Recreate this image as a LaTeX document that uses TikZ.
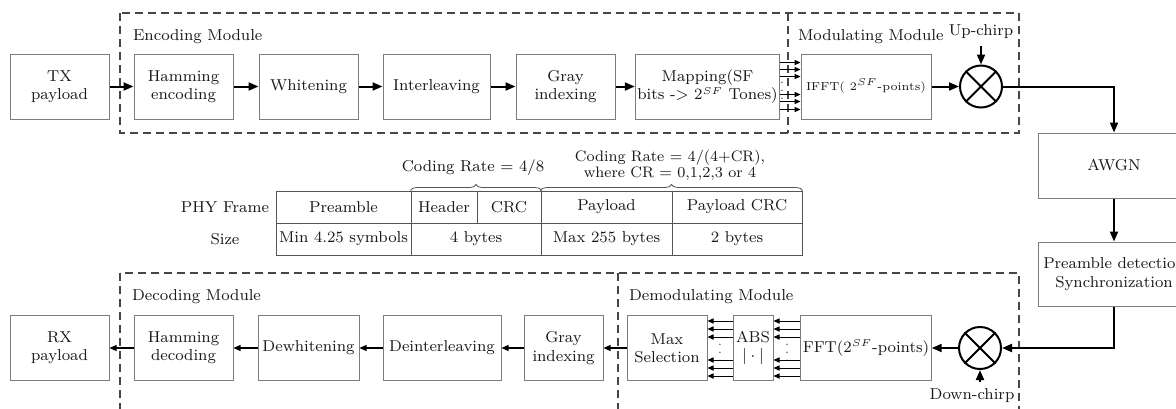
\documentclass[tikz,border=0pt]{standalone}
\usepackage{tikz}
\usetikzlibrary{calc,arrows.meta,decorations.pathreplacing}
\definecolor{boxgray}{RGB}{125,125,125}
\definecolor{dashgray}{RGB}{70,70,70}
\definecolor{tabgray}{RGB}{85,85,85}
\definecolor{inkblack}{RGB}{25,25,25}
\newcommand{\lblsize}{\fontsize{7.9}{9.2}\selectfont}
\newcommand{\smallsize}{\fontsize{5.8}{7}\selectfont}
\newcommand{\dotsize}{\fontsize{5.5}{5.5}\selectfont}
\newcommand{\sfexp}{$^{\scriptscriptstyle SF}$}

\begin{document}
\begin{tikzpicture}[x=0.5pt,y=-0.5pt,
  every node/.style={font=\lblsize,text=inkblack},
  blk/.style={draw=boxgray,line width=0.5pt,minimum height=32.5pt,inner sep=1pt,align=center},
  cell/.style={draw=tabgray,line width=0.5pt,minimum height=16pt,inner sep=0pt},
  mixer/.style={circle,draw=black,line width=1pt,minimum size=21pt,inner sep=0pt},
  module/.style={draw=dashgray,line width=0.6pt,dash pattern=on 4pt off 2.5pt},
  bigarrow/.style={draw=black,line width=1pt,-{Triangle[length=5pt,width=4pt]}},
  thinarrow/.style={draw=black,line width=0.6pt,-{Triangle[length=3.5pt,width=3pt]}},
  busarrow/.style={draw=black,line width=0.5pt,-{Triangle[length=3pt,width=2.6pt]}},
  busdots/.style={font=\dotsize,inner sep=0pt},
  cbrace/.style={draw=tabgray,line width=0.4pt,decorate,decoration={brace,amplitude=3pt}}
]
\useasboundingbox (0,0) rectangle (1176,408);
\clip (0,0) rectangle (1176,408);

% module frames
\draw[module] (120,13) rectangle (1019,133);
\draw[module] (788,13) -- (788,133);
\draw[module] (120,273) rectangle (1019,440);
\draw[module] (618,273) -- (618,440);
\node[anchor=west] (enclbl) at (126,37) {Encoding Module};
\node[anchor=west] (modlbl) at (791,37) {Modulating Module};
\node[anchor=west] (declbl) at (125,297) {Decoding Module};
\node[anchor=west] (demlbl) at (622,297) {Demodulating Module};

% transmitter chain
\node[blk,minimum width=49.5pt] (txp) at (59.5,86.5) {TX\\payload};
\node[blk,minimum width=49.5pt] (hamenc) at (183.5,86.5) {Hamming\\encoding};
\node[blk,minimum width=49.5pt] (whiten) at (308.5,86.5) {Whitening};
\node[blk,minimum width=53.5pt] (interl) at (436.5,86.5) {Interleaving};
\node[blk,minimum width=49.5pt] (grayenc) at (565.5,86.5) {Gray\\indexing};
\node[blk,minimum width=67.5pt] (mapping) at (707.5,86.5) {Mapping(SF\\bits -> 2\sfexp{} Tones)};
\node[blk,minimum width=65pt,font=\smallsize] (ifft) at (866,86.5) {IFFT( 2\sfexp-points)};
\node[mixer] (mixtx) at (981,86.5) {};
\node (upchirp) at (981,32) {Up-chirp};

% channel
\node[blk,minimum width=76pt] (awgn) at (1114,165.5) {AWGN};
\node[blk,minimum width=76pt,minimum height=32pt] (sync) at (1114,274) {Preamble detection\\Synchronization};

% receiver chain
\node[mixer] (mixrx) at (980,348) {};
\node (dchirp) at (972,396) {Down-chirp};
\coordinate (dctail) at (980,382);
\node[blk,minimum width=65pt] (fft) at (866,348) {FFT(2\sfexp-points)};
\node[blk,minimum width=20pt] (absb) at (753,348) {ABS\\$|\cdot|$};
\node[blk,minimum width=40pt] (maxsel) at (667,348) {Max\\Selection};
\node[blk,minimum width=39.5pt] (graydec) at (563.5,348) {Gray\\indexing};
\node[blk,minimum width=59pt] (deinter) at (442,348) {Deinterleaving};
\node[blk,minimum width=50.5pt] (dewhite) at (308.5,348) {Dewhitening};
\node[blk,minimum width=49.5pt] (hamdec) at (183.5,348) {Hamming\\decoding};
\node[blk,minimum width=49.5pt] (rxp) at (59.5,348) {RX\\payload};

\foreach \m in {mixtx,mixrx}{
  \draw[line width=1pt] (\m.45) -- (\m.225) (\m.135) -- (\m.315);
}

\draw[bigarrow] (txp) -- (hamenc);
\draw[bigarrow] (hamenc) -- (whiten);
\draw[bigarrow] (whiten) -- (interl);
\draw[bigarrow] (interl) -- (grayenc);
\draw[bigarrow] (grayenc) -- (mapping);
\foreach \dy in {-24,-17,-10,8,15,23}
  \draw[busarrow] ($(mapping.east)+(0,\dy)$) -- ($(ifft.west)+(0,\dy)$);
\node[busdots] (mapdots) at (782,85) {$\vdots$};
\draw[bigarrow] (ifft) -- (mixtx);
\draw[bigarrow] (upchirp) -- (mixtx);
\draw[bigarrow] (mixtx.east) -| (awgn.north);
\draw[bigarrow] (awgn) -- (sync);
\draw[bigarrow] (sync.south) |- (mixrx.east);
\draw[bigarrow] (dctail) -- (mixrx.south);
\draw[bigarrow] (mixrx) -- (fft);
\foreach \dy in {-27,-19,-11,12,20,28}{
  \draw[busarrow] ($(fft.west)+(0,\dy)$) -- ($(absb.east)+(0,\dy)$);
  \draw[busarrow] ($(absb.west)+(0,\dy)$) -- ($(maxsel.east)+(0,\dy)$);
}
\node[busdots] (fftdots) at (787,347) {$\vdots$};
\node[busdots] (absdots) at (720,347) {$\vdots$};
\draw[thinarrow] (maxsel) -- (graydec);
\draw[thinarrow] (graydec) -- (deinter);
\draw[thinarrow] (deinter) -- (dewhite);
\draw[thinarrow] (dewhite) -- (hamdec);
\draw[thinarrow] (hamdec) -- (rxp);

% frame table
\node (phylbl) at (225,207) {PHY Frame};
\node (sizelbl) at (225,239) {Size};
\node[cell,minimum width=67.5pt] (pre) at (343.5,207) {Preamble};
\node[cell,minimum width=33pt] (hdr) at (444,207) {Header};
\node[cell,minimum width=32pt] (hcrc) at (509,207) {CRC};
\node[cell,minimum width=65.5pt] (pay) at (606.5,207) {Payload};
\node[cell,minimum width=65pt] (pcrc) at (737,207) {Payload CRC};
\node[cell,minimum width=67.5pt] (presz) at (343.5,239) {Min 4.25 symbols};
\node[cell,minimum width=65pt] (hdrsz) at (476,239) {4 bytes};
\node[cell,minimum width=65.5pt] (paysz) at (606.5,239) {Max 255 bytes};
\node[cell,minimum width=65pt] (pcrcsz) at (737,239) {2 bytes};
\draw[cbrace] (hdr.north west) -- (hcrc.north east);
\draw[cbrace] (pay.north west) -- (pcrc.north east);
\node (cr1) at (473,168) {Coding Rate = 4/8};
\node[align=center,font=\fontsize{7.6}{7.8}\selectfont] (cr2) at (670,165) {Coding Rate = 4/(4+CR),\\where CR = 0,1,2,3 or 4};
\end{tikzpicture}
\end{document}
